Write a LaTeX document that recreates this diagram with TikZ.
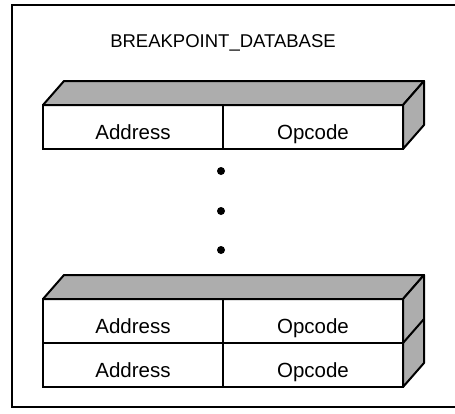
\documentclass[tikz,border=0pt]{standalone}
\usepackage{fontspec}
\setmainfont{Liberation Sans}
\usetikzlibrary{calc, positioning}

\tikzset{
  cell/.style={draw, line width=2pt, outer sep=0pt, inner sep=0pt,
    minimum width=180pt, minimum height=44pt, text height=24pt, text depth=0pt,
    font=\fontsize{20.5}{23}\selectfont},
  face/.style={draw, line width=2pt, line join=round, fill=black!32},
  bigdot/.style={circle, fill, inner sep=0pt, minimum size=8pt},
}

\begin{document}
\begin{tikzpicture}[x=1pt, y=-1pt]
	\def\dx{21}
	\def\dy{-24}
	\useasboundingbox (0,0) rectangle (455,413);
	
	% outer frame, its right side runs off the page
	\draw[line width=2.8pt] (460,5) -- (12,5) -- (12,407) -- (460,407);
	\node[anchor=base, font=\fontsize{18.5}{21}\selectfont] (title) at (223,47) {BREAKPOINT\_DATABASE};
	
	% first entry
	\node[cell, anchor=north west] (addrA) at (43,105) {Address};
	\node[cell, right=0pt of addrA] (opA) {Opcode};
	\draw[face] (addrA.north west) -- ++(\dx,\dy) -- ($(opA.north east)+(\dx,\dy)$) -- (opA.north east) -- cycle;
	\draw[face] (opA.north east) -- ++(\dx,\dy) -- ($(opA.south east)+(\dx,\dy)$) -- (opA.south east) -- cycle;
	
	% dots
	\foreach \y [count=\i] in {171,211,250}
		\node[bigdot] (dot\i) at (221,\y) {};
	
	% last two entries
	\node[cell, anchor=north west] (addrB) at (43,299) {Address};
	\node[cell, right=0pt of addrB] (opB) {Opcode};
	\node[cell, below=0pt of addrB] (addrC) {Address};
	\node[cell, right=0pt of addrC] (opC) {Opcode};
	\draw[face] (addrB.north west) -- ++(\dx,\dy) -- ($(opB.north east)+(\dx,\dy)$) -- (opB.north east) -- cycle;
	\draw[face] (opB.north east) -- ++(\dx,\dy) -- ($(opC.south east)+(\dx,\dy)$) -- (opC.south east) -- cycle;
	\draw[line width=2pt] (opB.south east) -- ++(\dx,\dy);
\end{tikzpicture}
\end{document}
